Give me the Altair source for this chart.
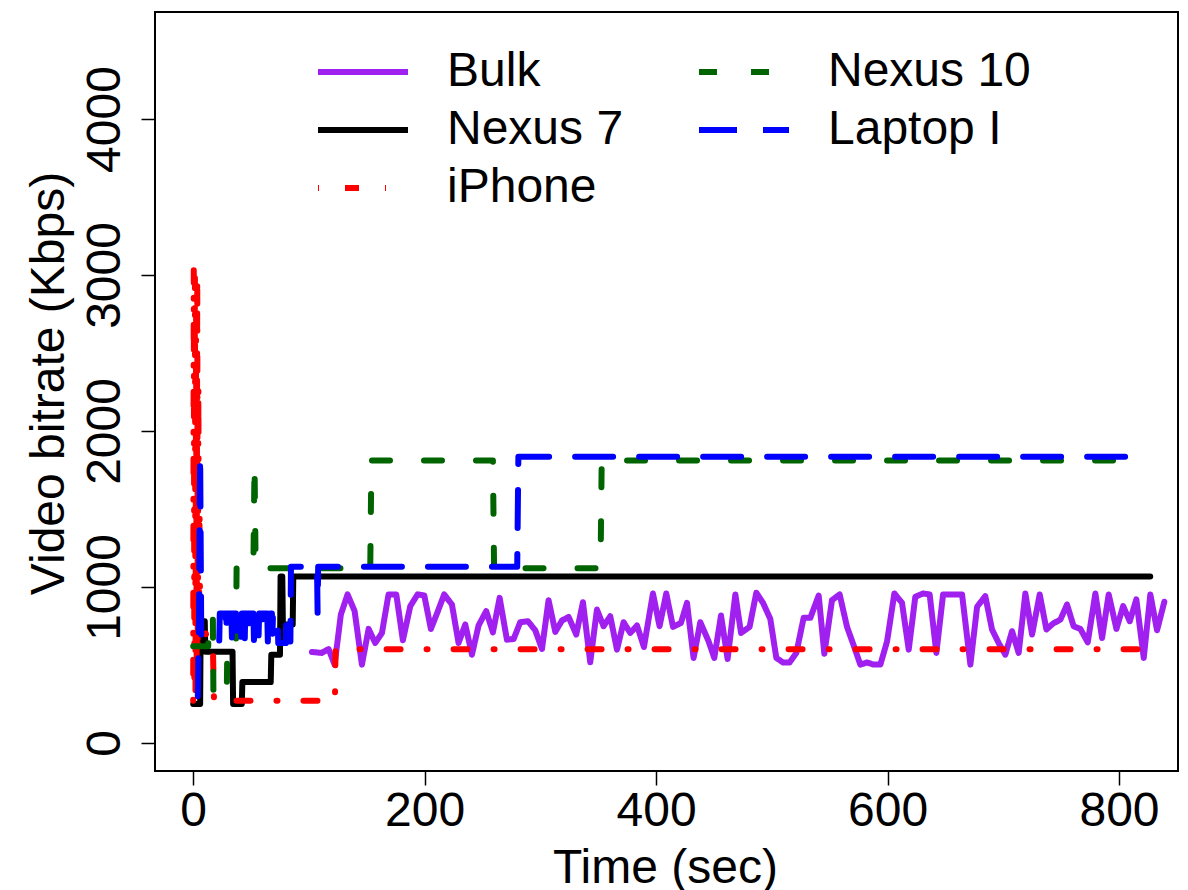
import altair as alt
import pandas as pd

# ---- data ----
legend_order = ["Bulk", "Nexus 7", "iPhone", "Nexus 10", "Laptop I"]
draw_order = ["Bulk", "Nexus 7", "iPhone", "Nexus 10", "Laptop I"]
line_colors = ["#A020F0", "#000000", "#FF0000", "#006400", "#0000FF"]
line_dashes = [[1, 0], [1, 0], [1, 26, 14, 26], [18, 34], [38, 26]]

x_ticks = [0, 200, 400, 600, 800]
y_ticks = [0, 1000, 2000, 3000, 4000]

bulk_t = [102.6, 111.2, 117.0, 122.2, 127.6, 133.4, 139.5, 145.8, 151.6, 157.3,
          163.1, 168.8, 175.5, 181.2, 187.6, 193.9, 199.7, 205.4, 211.2, 216.9,
          223.6, 229.3, 235.1, 240.9, 246.6, 253.2, 259.0, 264.8, 271.1, 276.9,
          282.6, 289.3, 295.6, 301.4, 307.1, 312.9, 318.7, 324.4, 331.0, 336.8,
          343.1, 348.9, 354.6, 360.4, 366.2, 371.9, 377.7, 383.5, 389.5, 397.3,
          403.0, 408.8, 414.6, 421.5, 426.7, 432.4, 438.2, 445.4, 450.3, 456.1,
          461.8, 468.5, 473.4, 480.8, 486.6, 492.4, 498.7, 503.9, 509.7, 515.4,
          521.2, 527.5, 533.3, 540.5, 545.4, 552.0, 558.6, 565.0, 571.0, 576.5,
          582.3, 588.0, 593.8, 599.6, 605.9, 612.5, 618.3, 624.0, 630.7, 636.4,
          642.2, 648.0, 655.7, 664.4, 671.6, 677.4, 684.5, 690.3, 696.0, 701.8,
          707.6, 713.3, 719.1, 724.9, 731.5, 737.3, 743.0, 749.4, 755.1, 760.8,
          766.6, 773.0, 779.6, 785.4, 791.1, 797.8, 803.6, 809.3, 815.0, 821.4,
          827.1, 832.9, 839.2]
bulk_v = [583, 577, 602, 502, 823, 952, 845, 502, 731, 641,
          705, 952, 952, 658, 877, 952, 945, 731, 840, 952,
          887, 641, 759, 566, 753, 845, 709, 930, 662, 666,
          774, 780, 722, 602, 915, 712, 785, 808, 695, 902,
          517, 855, 748, 812, 598, 774, 705, 753, 615, 958,
          748, 958, 744, 769, 898, 545, 774, 651, 545, 817,
          538, 952, 705, 744, 963, 898, 795, 545, 516, 516,
          577, 802, 802, 945, 572, 915, 952, 744, 620, 502,
          516, 502, 502, 651, 958, 898, 598, 937, 958, 952,
          577, 952, 952, 952, 502, 873, 941, 727, 641, 566,
          716, 577, 958, 695, 952, 727, 765, 791, 887, 748,
          731, 645, 958, 673, 952, 731, 877, 780, 920, 545,
          952, 722, 905]

nexus7_t = [0, 6, 6.5, 10, 10.5, 34, 34.5, 42, 42.5, 67, 67.5, 75, 75.5, 77, 77.5, 86, 86.5, 827]
nexus7_v = [250, 250, 780, 780, 585, 585, 250, 250, 390, 390, 565, 565, 1067, 1067, 760, 760, 1067, 1067]

iphone_t = [0, 0.5, 1, 1.5, 2, 2.5, 3, 3.5, 4, 4.5, 5, 5.5, 6, 8, 11, 14, 17, 18, 122.5, 123, 820]
iphone_v = [270, 3030, 420, 2980, 300, 2750, 560, 3000, 350, 2300, 620, 1500, 700, 760, 700, 620,
            620, 270, 270, 600, 600]

nexus10_t = [0, 13, 13.5, 17, 17.5, 29, 29.5, 37, 37.5, 47, 52, 53, 54, 153, 154, 259, 260, 352, 353, 808]
nexus10_v = [620, 620, 810, 810, 300, 300, 620, 620, 1120, 1140, 1120, 1790, 1120, 1120, 1810, 1810,
             1120, 1120, 1810, 1810]

laptop_t = [4, 5, 6, 7, 8, 22.5, 23, 28, 28.5, 29, 33, 33.5, 34, 37, 37.5, 38, 41, 41.5, 42,
            44, 44.5, 45, 48, 48.5, 49, 52, 52.5, 53, 56, 56.5, 57, 60, 60.5, 61, 64, 64.5, 65,
            68, 68.5, 69, 73, 73.5, 80, 80.5, 82, 82.5, 84, 84.5, 107, 107.5, 108, 280, 281, 821]
laptop_v = [300, 800, 1850, 650, 650, 650, 830, 830, 700, 830, 830, 660, 830, 830, 720, 830, 830, 680, 830,
            830, 640, 830, 830, 700, 830, 830, 660, 780, 780, 690, 830, 830, 720, 830, 830, 650, 830,
            830, 700, 830, 830, 640, 640, 830, 830, 650, 650, 1130, 1130, 835, 1130, 1130, 1835, 1835]

series_data = {
    "Bulk": (bulk_t, bulk_v),
    "Nexus 7": (nexus7_t, nexus7_v),
    "iPhone": (iphone_t, iphone_v),
    "Nexus 10": (nexus10_t, nexus10_v),
    "Laptop I": (laptop_t, laptop_v),
}

rows = []
for name, (ts, vs) in series_data.items():
    for i, (t, v) in enumerate(zip(ts, vs)):
        rows.append({"series": name, "t": t, "v": v, "idx": i})
df = pd.DataFrame(rows)

FONT = "Liberation Sans"

x_enc = alt.X("t:Q",
              scale=alt.Scale(domain=[-33, 851], nice=False, zero=False),
              axis=alt.Axis(values=x_ticks, title="Time (sec)", labelPadding=2,
                            titleX=510, titleY=111, titleBaseline="alphabetic",
                            titleAlign="center", labelBaseline="top"))
y_enc = alt.Y("v:Q",
              scale=alt.Scale(domain=[-180, 4686], nice=False, zero=False),
              axis=alt.Axis(values=y_ticks, title="Video bitrate (Kbps)", format="d",
                            labelAngle=270, labelAlign="center", labelBaseline="alphabetic",
                            labelPadding=22, titleAngle=270, titleX=-92, titleY=371,
                            titleAlign="center", titleBaseline="alphabetic"))
color_enc = alt.Color("series:N",
                      scale=alt.Scale(domain=legend_order, range=line_colors),
                      legend=alt.Legend(orient="none", legendX=160, legendY=31, columns=2,
                                        columnPadding=72, rowPadding=0, clipHeight=58,
                                        symbolType="stroke", symbolSize=8100,
                                        symbolStrokeWidth=6, labelFont=FONT,
                                        labelFontSize=48, labelColor="black",
                                        labelOffset=36, labelLimit=0, title=None,
                                        padding=0))
dash_enc = alt.StrokeDash("series:N",
                          scale=alt.Scale(domain=legend_order, range=line_dashes),
                          legend=None)

layers = []
for name in draw_order:
    layers.append(
        alt.Chart(df)
        .transform_filter(alt.datum.series == name)
        .mark_line(strokeWidth=6, strokeCap="round", strokeJoin="round", clip=True)
        .encode(x=x_enc, y=y_enc, color=color_enc, strokeDash=dash_enc,
                order=alt.Order("idx:Q"))
    )

chart = (
    alt.layer(*layers)
    .properties(width=1023, height=759,
                autosize=alt.AutoSizeParams(type="none"),
                padding={"left": 155, "top": 12, "right": 10, "bottom": 119},
                background="white")
    .configure_view(stroke="black", strokeWidth=2)
    .configure_axis(grid=False, domain=False, tickSize=14, tickColor="black", tickWidth=1.5,
                    labelFont=FONT, labelFontSize=48, labelColor="black",
                    titleFont=FONT, titleFontSize=48, titleFontWeight="normal",
                    titleColor="black")
)

chart.save("out.html", embed_options={"renderer": "svg", "actions": False})
